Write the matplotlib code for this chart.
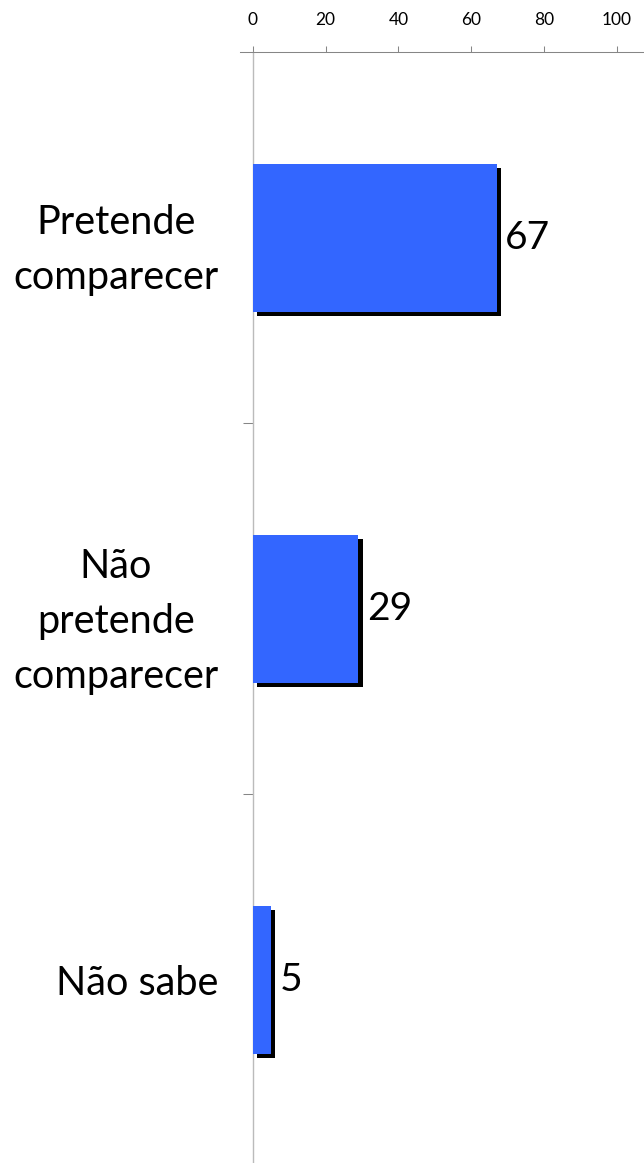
import matplotlib.pyplot as plt
import matplotlib.patheffects as pe
from matplotlib.lines import Line2D

plt.rcParams['font.family'] = ['Lato', 'DejaVu Sans']

# survey answers and their percentages
categories = ["Pretende\ncomparecer", "Não\npretende\ncomparecer", "Não sabe"]
values = [67, 29, 5]
x_ticks = [0, 20, 40, 60, 80, 100]

W, H = 644, 1163
fig = plt.figure(figsize=(W / 100, H / 100), dpi=100)

# axes placed in pixel terms so the layout matches the original
left_px, top_px, bottom_px = 253, 52.3, 1165.3
ax = fig.add_axes([left_px / W, (H - bottom_px) / H,
                   1 - left_px / W, (bottom_px - top_px) / H])

pos = list(range(len(categories)))
shadow = [pe.SimplePatchShadow(offset=(3, -3), shadow_rgbFace='black', alpha=1.0),
          pe.Normal()]
bars = ax.barh(pos, values, height=0.4, color='#3366FF', path_effects=shadow,
               zorder=3)

for b, v in zip(bars, values):
    ax.annotate(str(v), (b.get_width(), b.get_y() + b.get_height() / 2),
                xytext=(6, 0), textcoords='offset points',
                va='center', ha='left', fontsize=28)

ax.set_xlim(0, (W - left_px) / 3.635)
ax.set_ylim(len(categories) - 0.5, -0.5)

ax.xaxis.tick_top()
ax.set_xticks(x_ticks)
ax.tick_params(axis='x', direction='out', length=4.3, width=0.75,
               color='#868686', pad=13, labelsize=12.5)

ax.set_yticks(pos)
ax.set_yticklabels(categories, fontsize=28.5, multialignment='center',
                   linespacing=1.6)
ax.tick_params(axis='y', which='major', length=0, pad=25)
ax.set_yticks([0.5, 1.5, 2.5], minor=True)
ax.tick_params(axis='y', which='minor', direction='out', length=7.2,
               width=0.75, color='#868686')

for s in ['right', 'bottom', 'top']:
    ax.spines[s].set_visible(False)
ax.spines['left'].set_color('#BBBBBB')
ax.spines['left'].set_linewidth(1.0)

# the horizontal axis line runs a little past the vertical one
fig.add_artist(Line2D([240 / W, 1], [(H - top_px) / H] * 2,
                      color='#868686', lw=0.75))

fig.savefig('out.png', dpi=100)
